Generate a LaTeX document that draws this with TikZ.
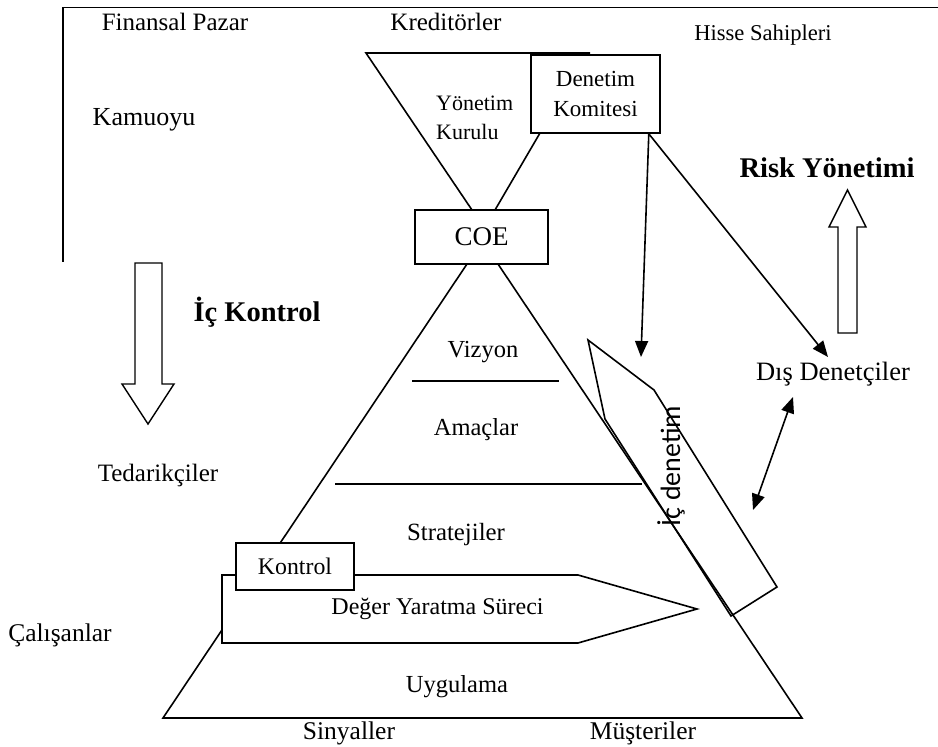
\documentclass[tikz,border=0pt]{standalone}
\usepackage{fontspec}
\setmainfont{Liberation Serif}
\newfontfamily\sansfam{Carlito}
\usetikzlibrary{arrows.meta,calc}
\tikzset{
  ln/.style={line width=1.6pt, line join=miter},
  lbl/.style={inner sep=0pt, font=\fontsize{25}{29}\selectfont},
  sz/.style={font=\fontsize{#1}{#1}\selectfont},
  boldlbl/.style={inner sep=0pt, font=\fontsize{28.5}{33}\selectfont\bfseries},
  boxn/.style={draw, fill=white, line width=1.6pt, inner sep=0pt, align=center},
  arr/.style={line width=1.6pt, -{Triangle[length=16pt,width=13pt]}},
  darr/.style={line width=1.6pt, {Triangle[length=16pt,width=13pt]}-{Triangle[length=16pt,width=13pt]}},
  blockarrow/.style={line width=1.4pt, fill=white, line join=miter},
}
\begin{document}
\begin{tikzpicture}[x=1pt,y=-1pt]
\useasboundingbox (0,0) rectangle (938,747);

% outer frame
\draw[ln] (938,7.5) -- (63,7.5) -- (63,262);

% top labels
\node[lbl] (finans) at (175,22) {Finansal Pazar};
\node[lbl] (kredi) at (446,22) {Kreditörler};
\node[lbl,sz=22.6] (hisse) at (763,35) {Hisse Sahipleri};
\node[lbl,sz=26] (kamu) at (144,120) {Kamuoyu};

% Yonetim Kurulu trapezoid
\draw[ln] (590,53) -- (366,53) -- (472,210);
\draw[ln] (540,133) -- (495,210);
\node[lbl,sz=22,anchor=west] (yon) at (436,103) {Yönetim};
\begin{scope}
  \clip (420,114) rectangle (520,141);
  \node[lbl,sz=22,anchor=west] (kur) at (436,132) {Kurulu};
\end{scope}

% Denetim Komitesi
\node[boxn, minimum width=129pt, minimum height=78pt, font=\fontsize{23}{30}\selectfont] (dk) at (595.5,94) {Denetim\\Komitesi};

% COE
\node[boxn, minimum width=133pt, minimum height=54pt, font=\fontsize{27}{30}\selectfont] (coe) at (481.5,237) {COE};

% main pyramid
\draw[ln] (467,264) -- (163,718) -- (802,718) -- (498,264);
\draw[ln] (412,381) -- (559,381);
\draw[ln] (335,484) -- (642,484);
\node[lbl,sz=24.5] (viz) at (483,352) {Vizyon};
\node[lbl,sz=24.5] (ama) at (476,430) {Amaçlar};
\node[lbl,sz=24.8] (strat) at (456,535) {Stratejiler};

% Deger Yaratma Sureci
\draw[ln, fill=white] (222,575) -- (578,575) -- (697,609) -- (578,643) -- (222,643) -- cycle;
\node[lbl,sz=24] (deger) at (437.5,609) {Değer Yaratma Süreci};
\node[boxn, minimum width=118pt, minimum height=47pt, font=\fontsize{23.8}{28}\selectfont] (kontrol) at (295,566.5) {Kontrol};
\node[lbl,sz=24.5] (uyg) at (457,687) {Uygulama};
\node[lbl,sz=25.5] (sinyal) at (349,733) {Sinyaller};
\node[lbl,sz=25.5] (must) at (643,733) {Müşteriler};

% Ic denetim shape
\draw[ln] (588,340) -- (654,390) -- (777,587) -- (731,616) -- (605,419) -- cycle;
\node[inner sep=0pt, rotate=90, font=\sansfam\fontsize{28}{30}\selectfont] (icden) at (671,466) {İç denetim};

% left labels
\node[lbl] (tedarik) at (158,475) {Tedarikçiler};
\node[lbl,sz=25.5] (calis) at (60,635) {Çalışanlar};

% Ic Kontrol block arrow
\draw[blockarrow] (135,263) -- (135,384) -- (122,384) -- (148,424) -- (174,384) -- (162,384) -- (162,263) -- cycle;
\node[boldlbl] (ickontrol) at (257,312) {İç Kontrol};

% Risk Yonetimi block arrow
\draw[blockarrow] (838,333) -- (838,227) -- (829,227) -- (847.5,190) -- (866,227) -- (857,227) -- (857,333) -- cycle;
\node[boldlbl] (risk) at (827,168) {Risk Yönetimi};

% Dis Denetciler
\node[lbl,sz=26.5] (dis) at (833,374) {Dış Denetçiler};

% connectors
\coordinate (dkout) at ($(dk.south east)+(-12,0)$);
\coordinate (icin) at (641,357);
\coordinate (disin) at (828,357);
\coordinate (disout) at (793,397);
\coordinate (icout) at (753,510);
\draw[arr] (dkout) -- (icin);
\draw[arr] (dkout) -- (disin);
\draw[darr] (disout) -- (icout);
\end{tikzpicture}
\end{document}
